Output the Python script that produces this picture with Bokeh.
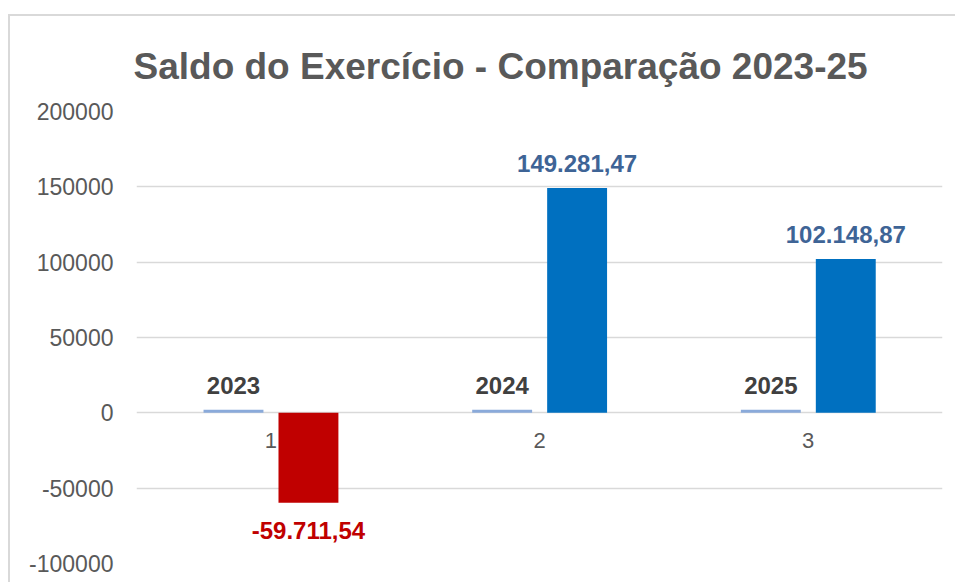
from bokeh.plotting import figure
from bokeh.models import (ColumnDataSource, FactorRange, Range1d, LabelSet,
                          SingleIntervalTicker, NumeralTickFormatter)
from bokeh.transform import dodge
from bokeh.embed import file_html
from bokeh.resources import INLINE
from bokeh.core.properties import value

# ---- data ----
categories = ["1", "2", "3"]
years = [2023, 2024, 2025]
saldo = [-59711.54, 149281.47, 102148.87]
title_text = "Saldo do Exercício - Comparação 2023-25"


def fmt_br(v):
    s = f"{v:,.2f}"
    return s.replace(",", "X").replace(".", ",").replace("X", ".")


FONT = "Liberation Sans"
src = ColumnDataSource(dict(
    cat=categories,
    years=years,
    year_label=[str(y) for y in years],
    saldo=saldo,
    saldo_label=[fmt_br(v) for v in saldo],
    saldo_color=["#C00000" if v < 0 else "#0070C0" for v in saldo],
    label_color=["#C00000" if v < 0 else "#3E6496" for v in saldo],
    label_offset=[-28 if v < 0 else 24 for v in saldo],
))

p = figure(x_range=FactorRange(*categories), y_range=Range1d(-100000, 200000),
           width=947, height=568,
           min_border_left=126, min_border_right=15, min_border_top=95, min_border_bottom=21,
           output_backend="svg", toolbar_location=None)
p.margin = (14, 0, 0, 8)
p.styles = {"border-left": "2px solid #d9d9d9", "border-top": "2px solid #d9d9d9"}
p.outline_line_color = None
p.background_fill_color = "white"
p.border_fill_color = "white"

W = 0.223
p.vbar(x=dodge("cat", -0.139, range=p.x_range), top="years", bottom=0, width=W,
       source=src, fill_color="#8AAADA", line_color=None)
p.vbar(x=dodge("cat", 0.14, range=p.x_range), top="saldo", bottom=0, width=W,
       source=src, fill_color="saldo_color", line_color=None)

p.add_layout(LabelSet(x=dodge("cat", -0.139, range=p.x_range), y="years", text="year_label",
                      source=src, y_offset=24, text_align="center", text_baseline="middle",
                      text_font=value(FONT), text_font_style="bold", text_font_size="24px",
                      text_color="#404040"))
p.add_layout(LabelSet(x=dodge("cat", 0.14, range=p.x_range), y="saldo", text="saldo_label",
                      source=src, y_offset="label_offset", text_align="center", text_baseline="middle",
                      text_font=value(FONT), text_font_style="bold", text_font_size="24px",
                      text_color="label_color"))

# grid
p.xgrid.visible = False
p.ygrid.ticker = SingleIntervalTicker(interval=50000)
p.ygrid.grid_line_color = "#d9d9d9"
p.ygrid.grid_line_width = 1.5

# y axis
p.yaxis.ticker = SingleIntervalTicker(interval=50000)
p.yaxis.formatter = NumeralTickFormatter(format="0")
p.yaxis.axis_line_color = None
p.yaxis.major_tick_line_color = None
p.yaxis.minor_tick_line_color = None
p.yaxis.major_label_standoff = 17
p.yaxis.major_label_text_font = FONT
p.yaxis.major_label_text_font_size = "23px"
p.yaxis.major_label_text_color = "#595959"

# x axis at zero
p.xaxis.fixed_location = 0
p.xaxis.level = "underlay"
p.xaxis.axis_line_color = None
p.xaxis.major_tick_line_color = None
p.xaxis.minor_tick_line_color = None
p.xaxis.major_label_standoff = 14
p.xaxis.major_label_text_font = FONT
p.xaxis.major_label_text_font_size = "22px"
p.xaxis.major_label_text_color = "#595959"

# title
p.title.text = title_text
p.title.align = "left"
p.title.offset = -3
p.title.standoff = 49
p.title.text_font = FONT
p.title.text_font_style = "bold"
p.title.text_font_size = "37px"
p.title.text_color = "#595959"

open("out.html", "w").write(file_html(p, INLINE))
